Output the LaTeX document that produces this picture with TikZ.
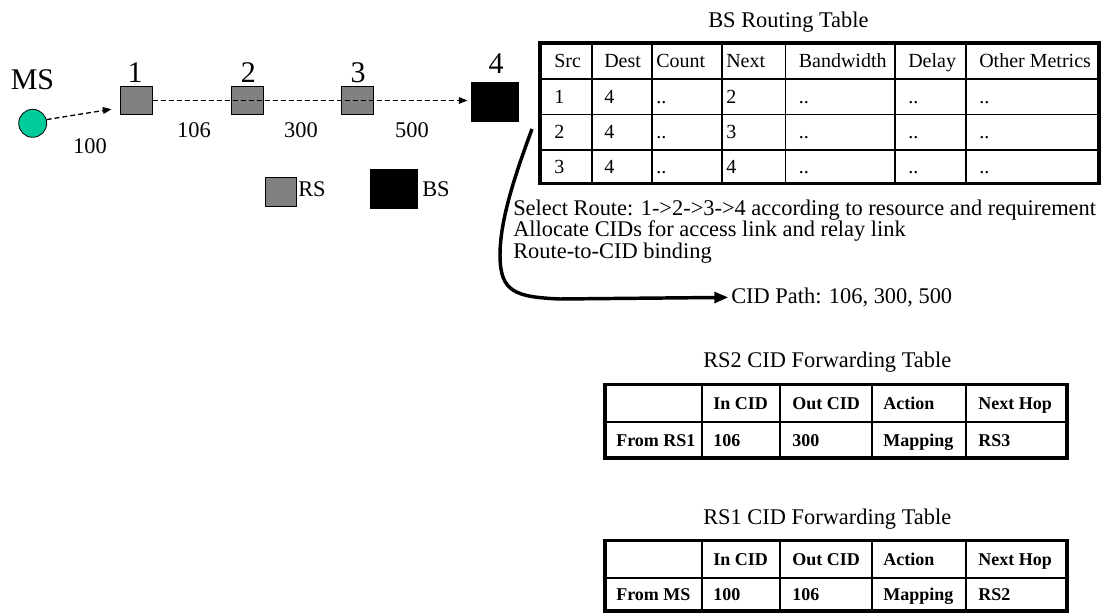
\documentclass[tikz,border=0pt]{standalone}
\usepackage{fontspec}
\setmainfont{Liberation Serif}
\usetikzlibrary{arrows.meta}
\definecolor{msgreen}{RGB}{0,204,153}
\definecolor{rsgray}{RGB}{128,128,128}

\begin{document}
\begin{tikzpicture}[x=0.75pt, y=-0.75pt, >=Stealth,
    txt/.style={font=\fontsize{16.8}{20}\selectfont, inner sep=0pt},
    bigtxt/.style={font=\fontsize{22.5}{26}\selectfont, inner sep=0pt},
    celltxt/.style={font=\fontsize{15}{18}\selectfont, inner sep=0pt, anchor=base west},
    fwdtxt/.style={font=\bfseries\fontsize{13.5}{16}\selectfont, inner sep=0pt, anchor=base west},
    msdot/.style={circle, draw, fill=msgreen, line width=0.6pt, minimum size=21pt, inner sep=0pt},
    rsbox/.style={draw, fill=rsgray, line width=0.6pt, minimum width=24pt, minimum height=20.6pt, inner sep=0pt},
    bsbox/.style={draw, fill=black, minimum width=35.25pt, minimum height=29.25pt, inner sep=0pt},
    dashlink/.style={dash pattern=on 3.75pt off 2.25pt, line width=1pt, -{Triangle[length=6.5pt, width=5pt]}},
    routearrow/.style={line width=2.6pt, -{Triangle[length=10.5pt, width=8pt]}},
    gridthin/.style={line width=1.1pt},
    gridthick/.style={line width=2.6pt}]
    % coordinates are in pixels of the 1109 x 613 sketch, y grows downwards
    \useasboundingbox (0,0) rectangle (1109,613);

    % --- Stations on the relay path ---
    \node[msdot] (ms) at (32.7,123.3) {};
    \node[rsbox] (rs1) at (136.5,100.5) {};
    \node[rsbox] (rs2) at (247.7,100.5) {};
    \node[rsbox] (rs3) at (357.8,100.5) {};
    \node[bsbox] (bs) at (495.2,101.7) {};

    % Station labels
    \node[bigtxt, anchor=base] (mslbl) at (32.5,90) {MS};
    \node[bigtxt, anchor=base] (lbl1) at (135,82.7) {1};
    \node[bigtxt, anchor=base] (lbl2) at (248.3,82.7) {2};
    \node[bigtxt, anchor=base] (lbl3) at (358,82.7) {3};
    \node[bigtxt, anchor=base] (lbl4) at (496,73.5) {4};

    % --- Links (dashed) ---
    \draw[dashlink, shorten >=6.5pt] (ms.15) -- (rs1.204);
    \draw[dashlink, shorten >=3pt] (rs1.east) -- (bs.west |- rs1.east);

    % CIDs of the links
    \node[txt, anchor=base] (cid100) at (90,153.6) {100};
    \node[txt, anchor=base] (cid106) at (194,137.5) {106};
    \node[txt, anchor=base] (cid300) at (301,137.5) {300};
    \node[txt, anchor=base] (cid500) at (412,137.5) {500};

    % --- Legend ---
    \node[rsbox, minimum width=23.25pt, minimum height=21.75pt] (legrs) at (280.5,191.5) {};
    \node[txt, anchor=base west] (legrstxt) at (298,196.5) {RS};
    \node[bsbox, minimum height=28.9pt] (legbs) at (393.5,188.8) {};
    \node[txt, anchor=base west] (legbstxt) at (422,196.5) {BS};

    % --- BS routing table ---
    \node[txt, anchor=base west] (bstitle) at (708,27.4) {BS Routing Table};
    \draw[gridthin] (540,79) -- (1099,79);
    \draw[gridthin] (540,114.5) -- (1099,114.5);
    \draw[gridthin] (540,150) -- (1099,150);
    \draw[gridthin] (592,43) -- (592,183.5);
    \draw[gridthin] (652,43) -- (652,183.5);
    \draw[gridthin] (722,43) -- (722,183.5);
    \draw[gridthin] (785.5,43) -- (785.5,183.5);
    \draw[gridthin] (895,43) -- (895,183.5);
    \draw[gridthin] (966,43) -- (966,183.5);
    \draw[gridthick] (540,43) rectangle (1099,183.5);

    % header
    \node[celltxt] (bth1) at (554,67.6) {Src};
    \node[celltxt] (bth2) at (604,67.6) {Dest};
    \node[celltxt] (bth3) at (656,67.6) {Count};
    \node[celltxt] (bth4) at (726,67.6) {Next};
    \node[celltxt] (bth5) at (798.5,67.6) {Bandwidth};
    \node[celltxt] (bth6) at (908,67.6) {Delay};
    \node[celltxt] (bth7) at (979,67.6) {Other Metrics};
    % row 1
    \node[celltxt] (bta1) at (554,103.4) {1};
    \node[celltxt] (bta2) at (604,103.4) {4};
    \node[celltxt] (bta3) at (656,103.4) {..};
    \node[celltxt] (bta4) at (726,103.4) {2};
    \node[celltxt] (bta5) at (798.5,103.4) {..};
    \node[celltxt] (bta6) at (908,103.4) {..};
    \node[celltxt] (bta7) at (979,103.4) {..};
    % row 2
    \node[celltxt] (btb1) at (554,138.9) {2};
    \node[celltxt] (btb2) at (604,138.9) {4};
    \node[celltxt] (btb3) at (656,138.9) {..};
    \node[celltxt] (btb4) at (726,138.9) {3};
    \node[celltxt] (btb5) at (798.5,138.9) {..};
    \node[celltxt] (btb6) at (908,138.9) {..};
    \node[celltxt] (btb7) at (979,138.9) {..};
    % row 3
    \node[celltxt] (btc1) at (554,173.4) {3};
    \node[celltxt] (btc2) at (604,173.4) {4};
    \node[celltxt] (btc3) at (656,173.4) {..};
    \node[celltxt] (btc4) at (726,173.4) {4};
    \node[celltxt] (btc5) at (798.5,173.4) {..};
    \node[celltxt] (btc6) at (908,173.4) {..};
    \node[celltxt] (btc7) at (979,173.4) {..};

    % --- Route selection steps ---
    \node[txt, anchor=base west] (selroute) at (513,215) {Select Route: 1->2->3->4 according to resource and requirement};
    \node[txt, anchor=base west] (alloc) at (513,236.7) {Allocate CIDs for access link and relay link};
    \node[txt, anchor=base west] (binding) at (513,258) {Route-to-CID binding};
    \node[txt, anchor=base west] (cidpath) at (731,303.4) {CID Path: 106, 300, 500};

    \coordinate (cstart) at (532,129);
    \draw[routearrow, shorten >=2pt] (cstart) .. controls (515,175) and (500,220) .. (500,255)
        .. controls (500,292) and (515,297) .. (560,299) -- (cidpath.west);

    % --- RS2 CID forwarding table ---
    \node[txt, anchor=base west] (rs2title) at (703,367) {RS2 CID Forwarding Table};
    \draw[gridthin] (605,422) -- (1067,422);
    \draw[gridthin] (702,384.5) -- (702,458);
    \draw[gridthin] (780,384.5) -- (780,458);
    \draw[gridthin] (872,384.5) -- (872,458);
    \draw[gridthin] (966,384.5) -- (966,458);
    \draw[gridthick] (605,384.5) rectangle (1067,458);

    \node[fwdtxt] (fth1) at (713,409.3) {In CID};
    \node[fwdtxt] (fth2) at (792,409.3) {Out CID};
    \node[fwdtxt] (fth3) at (883,409.3) {Action};
    \node[fwdtxt] (fth4) at (978,409.3) {Next Hop};
    \node[fwdtxt] (ftr0) at (616,446) {From RS1};
    \node[fwdtxt] (ftr1) at (713,446) {106};
    \node[fwdtxt] (ftr2) at (792,446) {300};
    \node[fwdtxt] (ftr3) at (883,446) {Mapping};
    \node[fwdtxt] (ftr4) at (978,446) {RS3};

    % --- RS1 CID forwarding table ---
    \node[txt, anchor=base west] (rs1title) at (703,524) {RS1 CID Forwarding Table};
    \draw[gridthin] (605,578) -- (1067,578);
    \draw[gridthin] (702,540.5) -- (702,611);
    \draw[gridthin] (780,540.5) -- (780,611);
    \draw[gridthin] (872,540.5) -- (872,611);
    \draw[gridthin] (966,540.5) -- (966,611);
    \draw[gridthick] (605,540.5) rectangle (1067,611);

    \node[fwdtxt] (fsh1) at (713,565.2) {In CID};
    \node[fwdtxt] (fsh2) at (792,565.2) {Out CID};
    \node[fwdtxt] (fsh3) at (883,565.2) {Action};
    \node[fwdtxt] (fsh4) at (978,565.2) {Next Hop};
    \node[fwdtxt] (fsr0) at (616,600.5) {From MS};
    \node[fwdtxt] (fsr1) at (713,600.5) {100};
    \node[fwdtxt] (fsr2) at (792,600.5) {106};
    \node[fwdtxt] (fsr3) at (883,600.5) {Mapping};
    \node[fwdtxt] (fsr4) at (978,600.5) {RS2};

\end{tikzpicture}
\end{document}
